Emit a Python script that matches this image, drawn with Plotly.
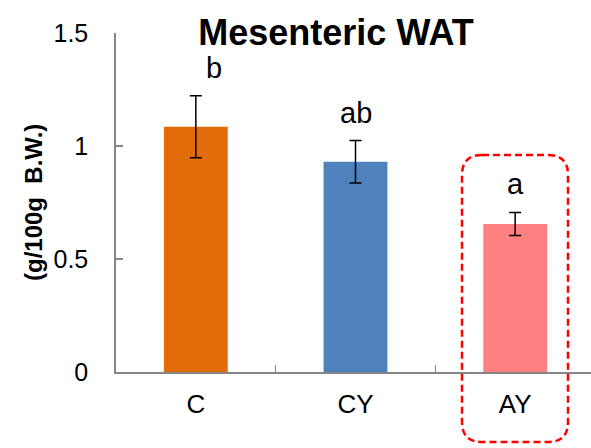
import plotly.graph_objects as go

categories = ["C", "CY", "AY"]
means = [1.085, 0.930, 0.655]
errors = [0.137, 0.094, 0.051]
letters = ["b", "ab", "a"]
colors = ["#E36C0A", "#4F81BD", "#FF8080"]
y_ticks = [0, 0.5, 1, 1.5]
y_tick_labels = ["0", "0.5", "1", "1.5"]

W, H = 591, 448
ML, MR, MT, MB = 116, 0, 33, 76
PW, PH = W - ML - MR, H - MT - MB
FONT = "Liberation Sans, Arial, sans-serif"
AXC = "#868686"

def px(xp):
    return (xp - ML) / PW

def py(yp):
    return (H - MB - yp) / PH

fig = go.Figure()
fig.add_trace(go.Bar(
    x=categories, y=means, width=0.4,
    marker=dict(color=colors, line=dict(width=0)),
    error_y=dict(type="data", array=errors, visible=True,
                 color="black", thickness=1.5, width=6),
    showlegend=False, hoverinfo="skip",
))

xshifts = [18, 0, 0]
for c, m, e, t, xs in zip(categories, means, errors, letters, xshifts):
    fig.add_annotation(x=c, y=m + e, text=t, showarrow=False,
                       yanchor="bottom", yshift=10, xshift=xs,
                       font=dict(family=FONT, size=29, color="black"))

fig.add_annotation(xref="paper", yref="paper", x=px(33), y=py(203),
                   text="<b>(g/100g\u00a0\u00a0B.W.)</b>", textangle=-90,
                   showarrow=False, xanchor="center", yanchor="middle",
                   font=dict(family=FONT, size=24, color="black"))

# rounded dashed rectangle
x0, x1 = px(462), px(568)
y0, y1 = py(442), py(155)
rx, ry = 20 / PW, 20 / PH
path = (f"M {x0+rx},{y1} L {x1-rx},{y1} Q {x1},{y1} {x1},{y1-ry} "
        f"L {x1},{y0+ry} Q {x1},{y0} {x1-rx},{y0} L {x0+rx},{y0} "
        f"Q {x0},{y0} {x0},{y0+ry} L {x0},{y1-ry} Q {x0},{y1} {x0+rx},{y1} Z")
fig.add_shape(type="path", xref="paper", yref="paper", path=path,
              line=dict(color="#FF0000", width=2.5, dash="7px,4px"),
              fillcolor="rgba(0,0,0,0)")

fig.update_layout(
    width=W, height=H,
    margin=dict(l=ML, r=MR, t=MT, b=MB, pad=0),
    paper_bgcolor="white", plot_bgcolor="white",
    title=dict(text="<b>Mesenteric WAT</b>", x=336 / W, xanchor="center",
               y=1 - 32 / H, yanchor="middle",
               font=dict(family=FONT, size=36, color="black")),
    xaxis=dict(range=[-0.5, 2.475], showline=True, linecolor=AXC, linewidth=1.5,
               ticks="inside", tickson="boundaries", ticklen=7, tickcolor=AXC,
               tickwidth=1.2, showgrid=False, ticklabelstandoff=8,
               tickfont=dict(family=FONT, size=26, color="black")),
    yaxis=dict(range=[0, 1.5], tickvals=y_ticks, ticktext=y_tick_labels,
               showline=True, linecolor=AXC, linewidth=1.5,
               ticks="inside", ticklen=7, tickcolor=AXC, tickwidth=1.5,
               showgrid=False, zeroline=False, ticklabelstandoff=21,
               tickfont=dict(family=FONT, size=25, color="black")),
)

fig.write_html("out.html", config={"displayModeBar": False},
               post_script="document.body.style.margin='0';document.body.style.overflow='hidden';")
